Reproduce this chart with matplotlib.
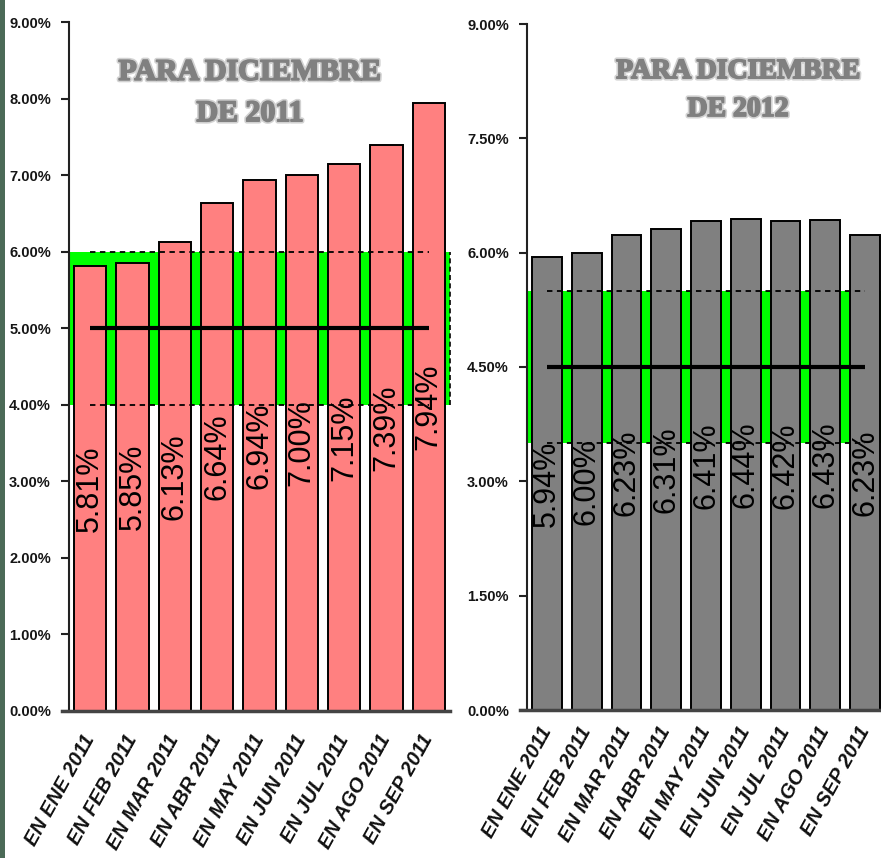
import matplotlib
matplotlib.use("Agg")
import matplotlib.pyplot as plt
import matplotlib.patheffects as pe
from matplotlib.patches import Rectangle

# ---- data ----
categories = ['EN ENE 2011', 'EN FEB 2011', 'EN MAR 2011', 'EN ABR 2011', 'EN MAY 2011',
              'EN JUN 2011', 'EN JUL 2011', 'EN AGO 2011', 'EN SEP 2011']
values_2011 = [5.81, 5.85, 6.13, 6.64, 6.94, 7.00, 7.15, 7.39, 7.94]
values_2012 = [5.94, 6.00, 6.23, 6.31, 6.41, 6.44, 6.42, 6.43, 6.23]
band_2011 = [4.0, 6.0]
target_2011 = 5.0
band_2012 = [3.5, 5.5]
target_2012 = 4.5
yticks_2011 = [0, 1, 2, 3, 4, 5, 6, 7, 8, 9]
yticks_2012 = [0, 1.5, 3, 4.5, 6, 7.5, 9]
title_2011 = 'PARA DICIEMBRE\nDE 2011'
title_2012 = 'PARA DICIEMBRE\nDE 2012'

W, H = 881, 858
fig = plt.figure(figsize=(W / 100, H / 100), dpi=100)
fig.patch.set_facecolor('white')
# dark strip on the left edge
fig.patches.append(Rectangle((0, 0), 5 / W, 1, transform=fig.transFigure,
                             facecolor='#4b6a57', edgecolor='none'))


def panel(rect, vals, band, target, yticks, title, barcolor, bw, title_xy, title_fs,
          xpad, band_edge):
    ax = fig.add_axes(rect)
    x = list(range(len(vals)))
    ax.set_xlim(-0.5, len(vals) - 0.5)
    ax.set_ylim(0, 9)
    # green band
    ax.axhspan(band[0], band[1], facecolor='#00ff00', edgecolor='none', zorder=0)
    if band_edge:
        ax.plot([len(vals) - 0.5, len(vals) - 0.5], band, color='black', lw=1.2,
                ls=(0, (3, 2)), zorder=1, clip_on=False)
    ax.bar(x, vals, width=bw, color=barcolor, edgecolor='black', linewidth=1.4, zorder=2)
    # dotted limits and target line
    for b in band:
        ax.plot([x[0], x[-1]], [b, b], color='black', lw=1.3, ls=(0, (3, 2.5)), zorder=3)
    ax.plot([x[0], x[-1]], [target, target], color='black', lw=3, zorder=3,
            solid_capstyle='butt')
    for xi, v in zip(x, vals):
        ax.text(xi, v / 2, f'{v:.2f}%', rotation=90, ha='center', va='center',
                fontsize=22, family='Liberation Sans', color='black', zorder=4)
    ax.set_yticks(yticks)
    ax.set_yticklabels([f'{t:.2f}%' for t in yticks], family='Liberation Sans',
                       fontsize=10.5, fontweight='bold', color='#151515')
    ax.tick_params(axis='y', length=6, width=1.5, color='#222222', pad=7)
    ax.set_xticks(x)
    ax.set_xticklabels(categories, rotation=61, ha='right', va='center',
                       rotation_mode='anchor', fontsize=14.5, fontweight='bold',
                       fontstyle='italic', family='Liberation Sans', color='#111111')
    ax.tick_params(axis='x', length=0, pad=xpad)
    for s in ('top', 'right'):
        ax.spines[s].set_visible(False)
    ax.spines['left'].set_linewidth(1.5)
    ax.spines['left'].set_color('#222222')
    ax.spines['bottom'].set_linewidth(2.5)
    ax.spines['bottom'].set_color('#444444')
    ax.spines['bottom'].set_bounds(-0.5 - 7 / (rect[2] * W / len(vals)), len(vals) - 0.5)
    ax.text(title_xy[0], title_xy[1], title, transform=ax.transAxes, ha='center',
            va='center', fontsize=title_fs, fontweight='bold', family='Liberation Serif',
            color='#808080', linespacing=1.68, zorder=5,
            path_effects=[pe.Stroke(linewidth=3.6, foreground='#d2d2d2'),
                          pe.Stroke(linewidth=1.3, foreground='#808080'), pe.Normal()])
    return ax

panel([69 / W, 1 - 711 / H, 381 / W, 689 / H], values_2011, band_2011, target_2011,
      yticks_2011, title_2011, '#ff8080', 0.76, (0.475, 0.897), 21.5, 18, True)
panel([527 / W, 1 - 710 / H, 358 / W, 686 / H], values_2012, band_2012, target_2012,
      yticks_2012, title_2012, '#808080', 0.75, (0.589, 0.903), 20, 13, False)

fig.savefig('out.png', dpi=100)
